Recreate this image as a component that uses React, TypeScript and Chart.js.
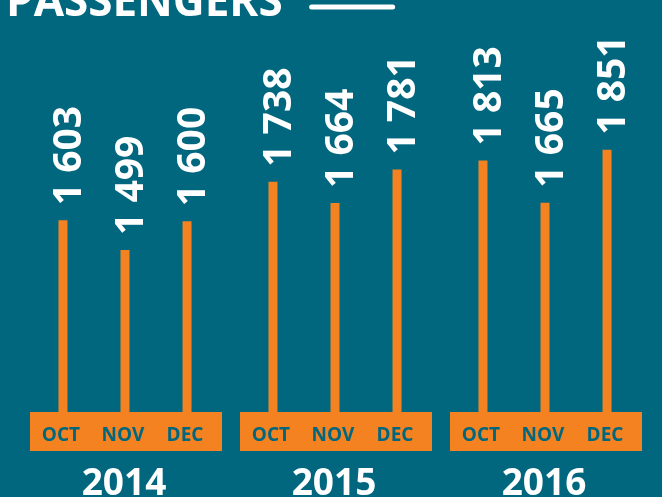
import React, { useEffect, useRef } from "react";
import { Chart, registerables } from "chart.js";

Chart.register(...registerables);

const years = ["2014", "2015", "2016"];
const months = ["OCT", "NOV", "DEC"];
const octValues = [1603, 1738, 1813];
const novValues = [1499, 1664, 1665];
const decValues = [1600, 1781, 1851];
const titleText = "PASSENGERS";

const BG = "#00677e";
const ORANGE = "#f58220";
const FONT = "'Open Sans', 'Noto Sans', sans-serif";

const fmt = (v: number) => {
  const s = String(v);
  return s.length > 3 ? s.slice(0, s.length - 3) + " " + s.slice(s.length - 3) : s;
};

const decorPlugin = {
  id: "decor",
  beforeDraw(chart: any) {
    const { ctx, width, height } = chart;
    ctx.save();
    ctx.fillStyle = BG;
    ctx.fillRect(0, 0, width, height);
    ctx.fillStyle = "#ffffff";
    ctx.font = `bold 44px ${FONT}`;
    ctx.textAlign = "left";
    ctx.textBaseline = "alphabetic";
    ctx.fillText(titleText, 6, 16);
    const w = ctx.measureText(titleText).width;
    ctx.strokeStyle = "#ffffff";
    ctx.lineWidth = 5;
    ctx.lineCap = "round";
    ctx.beginPath();
    ctx.moveTo(6 + w + 29, 7);
    ctx.lineTo(6 + w + 110, 7);
    ctx.stroke();
    ctx.restore();
  },
  afterDatasetsDraw(chart: any) {
    const { ctx, chartArea } = chart;
    const xScale = chart.scales.x;
    ctx.save();
    years.forEach((yr, i) => {
      const cx = xScale.getPixelForValue(i) + 1;
      ctx.fillStyle = ORANGE;
      ctx.fillRect(cx - 96, chartArea.bottom - 39, 192, 39);
      ctx.fillStyle = "#ffffff";
      ctx.font = `bold 37px ${FONT}`;
      ctx.textAlign = "center";
      ctx.textBaseline = "alphabetic";
      ctx.fillText(yr, cx - 2, chartArea.bottom + 44);
    });
    chart.data.datasets.forEach((ds: any, di: number) => {
      const meta = chart.getDatasetMeta(di);
      meta.data.forEach((bar: any, i: number) => {
        ctx.fillStyle = BG;
        ctx.font = `bold 19px ${FONT}`;
        ctx.textAlign = "center";
        ctx.textBaseline = "alphabetic";
        ctx.fillText(months[di], bar.x - 2, chartArea.bottom - 10);

        ctx.save();
        ctx.translate(bar.x + 18, bar.y - 15);
        ctx.rotate(-Math.PI / 2);
        ctx.fillStyle = "#ffffff";
        ctx.font = `bold 39px ${FONT}`;
        ctx.textAlign = "left";
        ctx.textBaseline = "alphabetic";
        ctx.fillText(fmt(ds.data[i]), 0, 0);
        ctx.restore();
      });
    });
    ctx.restore();
  },
};

export default function App() {
  const ref = useRef<HTMLCanvasElement | null>(null);
  useEffect(() => {
    document.body.style.margin = "0";
    if (!ref.current) return;
    const common = {
      backgroundColor: ORANGE,
      borderWidth: 0,
      categoryPercentage: 0.886,
      barPercentage: 0.5,
      maxBarThickness: 9,
    };
    const chart = new Chart(ref.current, {
      type: "bar",
      data: {
        labels: years,
        datasets: [
          { label: months[0], data: octValues, ...common },
          { label: months[1], data: novValues, ...common },
          { label: months[2], data: decValues, ...common },
        ],
      },
      options: {
        responsive: false,
        animation: false,
        layout: { padding: { left: 20, right: 12, top: 40, bottom: 46 } },
        plugins: { legend: { display: false }, tooltip: { enabled: false }, title: { display: false } },
        scales: {
          x: {
            grid: { display: false, drawTicks: false },
            border: { display: false },
            ticks: { display: false },
          },
          y: {
            display: false,
            min: 793,
            max: 2236,
          },
        },
      },
      plugins: [decorPlugin],
    });
    return () => chart.destroy();
  }, []);
  return (
    <div style={{ width: 662, height: 497 }}>
      <canvas ref={ref} width={662} height={497} />
    </div>
  );
}
